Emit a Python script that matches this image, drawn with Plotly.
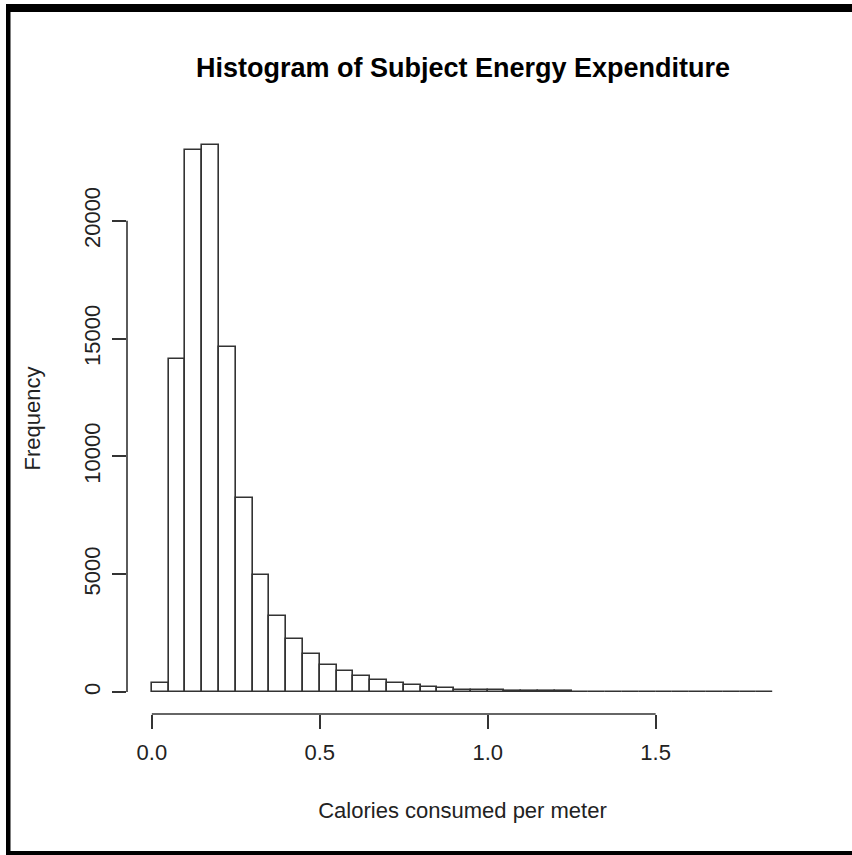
import plotly.graph_objects as go

# Histogram bins (width 0.05) and counts
bin_start = 0.0
bin_width = 0.05
counts = [370, 14150, 23000, 23220, 14640, 8220, 4960, 3250, 2240, 1600,
          1170, 900, 700, 515, 400, 290, 220, 160, 110, 100,
          70, 55, 45, 35, 28, 8, 5, 4, 3, 2,
          2, 1, 1, 1, 1, 1, 1]
x_ticks = [0.0, 0.5, 1.0, 1.5]
x_ticklabels = ["0.0", "0.5", "1.0", "1.5"]
y_ticks = [0, 5000, 10000, 15000, 20000]
y_ticklabels = ["0", "5000", "10000", "15000", "20000"]

title = "Histogram of Subject Energy Expenditure"
x_title = "Calories consumed per meter"
y_title = "Frequency"

n = len(counts)
centers = [bin_start + bin_width * (i + 0.5) for i in range(n)]
x_lo = bin_start
x_hi = bin_start + bin_width * n
xr = x_hi - x_lo
ymax = max(counts)

W, H = 852, 855
L, R, T, B = 127, 54, 123, 141
pw, ph = W - L - R, H - T - B

FONT = "Liberation Sans, Arial, sans-serif"

fig = go.Figure()
fig.add_trace(go.Bar(
    x=centers, y=counts, width=bin_width,
    marker=dict(color="white", line=dict(color="#333333", width=1.6)),
    hoverinfo="x+y", showlegend=False,
))

def px_x(p):
    return (p - L) / pw

def px_y(p):
    return (H - B - p) / ph

shapes = [
    # axis lines (R style, only spanning the tick range)
    dict(type="line", xref="x", yref="paper", x0=x_ticks[0], x1=x_ticks[-1],
         y0=0, y1=0, line=dict(color="#333333", width=1.6)),
    dict(type="line", xref="paper", yref="y", x0=0, x1=0,
         y0=y_ticks[0], y1=y_ticks[-1], line=dict(color="#333333", width=1.6)),
    # black image frame
    dict(type="rect", xref="paper", yref="paper", x0=px_x(6), x1=px_x(W),
         y0=px_y(12), y1=px_y(4), fillcolor="black", line=dict(width=0), layer="above"),
    dict(type="rect", xref="paper", yref="paper", x0=px_x(6), x1=px_x(10.5),
         y0=px_y(H), y1=px_y(4), fillcolor="black", line=dict(width=0), layer="above"),
    dict(type="rect", xref="paper", yref="paper", x0=px_x(6), x1=px_x(W),
         y0=px_y(H), y1=px_y(851), fillcolor="black", line=dict(width=0), layer="above"),
]

fig.update_layout(
    width=W, height=H,
    margin=dict(l=L, r=R, t=T, b=B, pad=0),
    paper_bgcolor="white", plot_bgcolor="white",
    bargap=0,
    font=dict(family=FONT, size=22, color="black"),
    title=dict(text="<b>" + title + "</b>", x=463 / W,
               xanchor="center", y=1 - 68 / H, yanchor="middle",
               font=dict(family=FONT, size=27, color="black")),
    xaxis=dict(range=[x_lo - 0.04 * xr, x_hi + 0.04 * xr],
               tickvals=x_ticks, ticktext=x_ticklabels,
               ticks="outside", ticklen=14, tickwidth=1.6, tickcolor="#333333",
               showline=False, showgrid=False, zeroline=False,
               tickfont=dict(family=FONT, size=22, color="#222222"),
               ticklabelstandoff=5,
               title=dict(text=x_title, standoff=38,
                          font=dict(family=FONT, size=22, color="#222222"))),
    yaxis=dict(range=[-0.04 * ymax, ymax * 1.04],
               tickvals=y_ticks, ticktext=y_ticklabels, tickangle=-90,
               ticks="outside", ticklen=14, tickwidth=1.6, tickcolor="#333333",
               showline=False, showgrid=False, zeroline=False,
               tickfont=dict(family=FONT, size=22, color="#222222"),
               ticklabelstandoff=3,
               title=dict(text=y_title, standoff=33,
                          font=dict(family=FONT, size=22, color="#222222"))),
    shapes=shapes,
)

fig.write_html("out.html")
